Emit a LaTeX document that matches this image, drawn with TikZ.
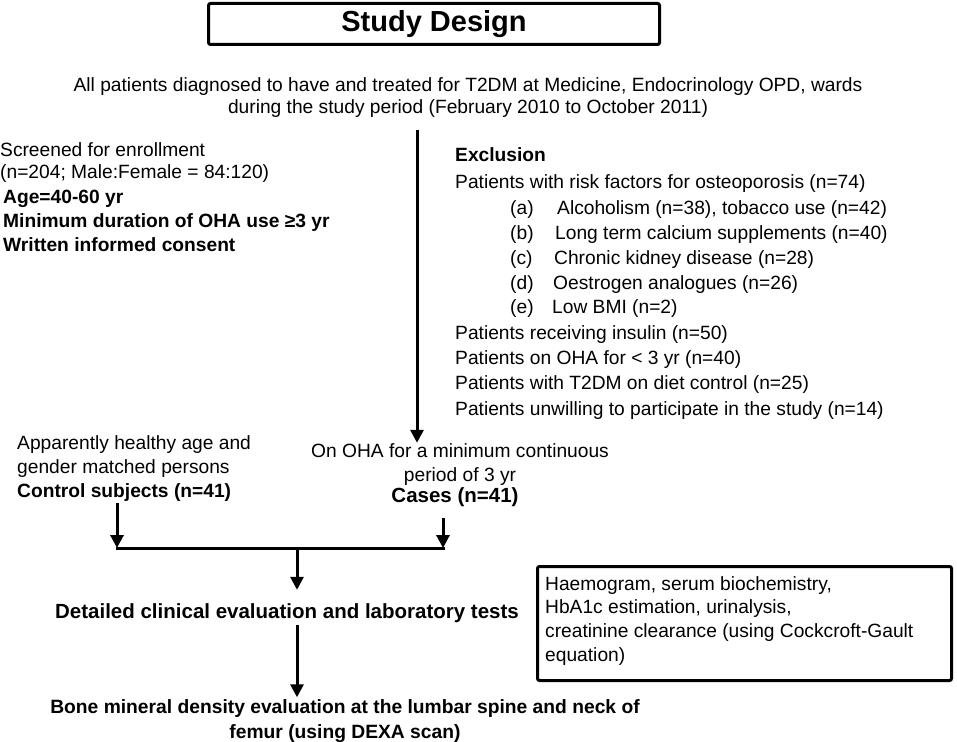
\documentclass[tikz,border=0pt]{standalone}
\usepackage{fontspec}
\setmainfont{Liberation Sans}
\usetikzlibrary{arrows.meta}
\begin{document}
\begin{tikzpicture}[x=1pt,y=-1pt,
  txt/.style={inner sep=0pt, font=\fontsize{19.2}{22}\selectfont, text height=14pt, text depth=4pt},
  btxt/.style={txt, font=\fontsize{19.2}{22}\selectfont\bfseries},
  arr/.style={line width=3pt, -{Triangle[width=13pt,length=13pt]}},
  ln/.style={line width=3pt}]
\useasboundingbox (0,0) rectangle (957,741);
% title
\node[draw, line width=3pt, rounded corners=2pt, minimum width=451pt, minimum height=41pt, inner sep=0pt] (title) at (434,24) {\fontsize{29}{32}\selectfont\bfseries Study Design};
% top text
\node[txt, align=center, text height=, text depth=, font=\fontsize{19.2}{22}\selectfont] (top) at (468,98) {All patients diagnosed to have and treated for T2DM at Medicine, Endocrinology OPD, wards\\during the study period (February 2010 to October 2011)};
% left screening
\node[txt, anchor=west] (s1) at (0,151) {Screened for enrollment};
\node[txt, anchor=west] (s2) at (0,173) {(n=204; Male:Female = 84:120)};
\node[btxt, anchor=west] (s3) at (3,198) {Age=40-60 yr};
\node[btxt, anchor=west] (s4) at (3,222) {Minimum duration of OHA use ≥3 yr};
\node[btxt, anchor=west] (s5) at (3,246) {Written informed consent};
% exclusion
\node[btxt, anchor=west] (e0) at (455,156) {Exclusion};
\node[txt, anchor=west] (e1) at (455,183) {Patients with risk factors for osteoporosis (n=74)};
\node[txt, anchor=west] (ea) at (510,209) {(a)};
\node[txt, anchor=west] (eat) at (557,209) {Alcoholism (n=38), tobacco use (n=42)};
\node[txt, anchor=west] (eb) at (510,234) {(b)};
\node[txt, anchor=west] (ebt) at (555,234) {Long term calcium supplements (n=40)};
\node[txt, anchor=west] (ec) at (510,259) {(c)};
\node[txt, anchor=west] (ect) at (554,259) {Chronic kidney disease (n=28)};
\node[txt, anchor=west] (ed) at (510,284) {(d)};
\node[txt, anchor=west] (edt) at (553,284) {Oestrogen analogues (n=26)};
\node[txt, anchor=west] (ee) at (510,308) {(e)};
\node[txt, anchor=west] (eet) at (552,308) {Low BMI (n=2)};
\node[txt, anchor=west] (e2) at (455,334) {Patients receiving insulin (n=50)};
\node[txt, anchor=west] (e3) at (455,359) {Patients on OHA for < 3 yr (n=40)};
\node[txt, anchor=west] (e4) at (455,384) {Patients with T2DM on diet control (n=25)};
\node[txt, anchor=west] (e5) at (455,410) {Patients unwilling to participate in the study (n=14)};
% control and cases
\node[txt, anchor=west] (c1) at (17,444) {Apparently healthy age and};
\node[txt, anchor=west] (c2) at (17,468) {gender matched persons};
\node[btxt, anchor=west] (control) at (17,492) {Control subjects (n=41)};
\node[txt, anchor=center] (o1) at (460,452) {On OHA for a minimum continuous};
\node[txt, anchor=center] (o2) at (460,476) {period of 3 yr};
\node[btxt, anchor=center, font=\fontsize{20.5}{22}\selectfont\bfseries] (cases) at (455,497) {Cases (n=41)};
% detailed
\node[btxt, font=\fontsize{20.5}{22}\selectfont\bfseries] (detail) at (287,613) {Detailed clinical evaluation and laboratory tests};
\node[draw, line width=3pt, rounded corners=2pt, anchor=north west, minimum width=414pt, minimum height=114pt, inner sep=0pt] (lab) at (536,565) {};
\node[txt, anchor=north west, align=left, text height=, text depth=, font=\fontsize{19.2}{23.7}\selectfont] (labtxt) at (545,576) {Haemogram, serum biochemistry,\\HbA1c estimation, urinalysis,\\creatinine clearance (using Cockcroft-Gault\\equation)};
\node[btxt, align=center, text height=, text depth=, font=\fontsize{19.25}{25}\selectfont\bfseries] (bmd) at (345,721) {Bone mineral density evaluation at the lumbar spine and neck of\\femur (using DEXA scan)};
% connectors
\coordinate (mx) at (417,0);
\coordinate (lx) at (117,0);
\coordinate (rx) at (443,0);
\coordinate (cx) at (297,0);
\coordinate (jy) at (0,548);
\draw[arr] ([yshift=-12pt]top.south -| mx) -- (o1.north -| mx);
\draw[arr] ([yshift=-2pt]control.south -| lx) -- (jy -| lx);
\draw[arr] ([yshift=-12pt]cases.south -| rx) -- (jy -| rx);
\draw[ln] ([xshift=-1.5pt]jy -| lx) -- ([xshift=1.5pt]jy -| rx);
\draw[arr] (jy -| cx) -- ([yshift=14pt]detail.north -| cx);
\draw[arr] ([yshift=-3pt]detail.south -| cx) -- ([yshift=2pt]bmd.north -| cx);
\end{tikzpicture}
\end{document}
